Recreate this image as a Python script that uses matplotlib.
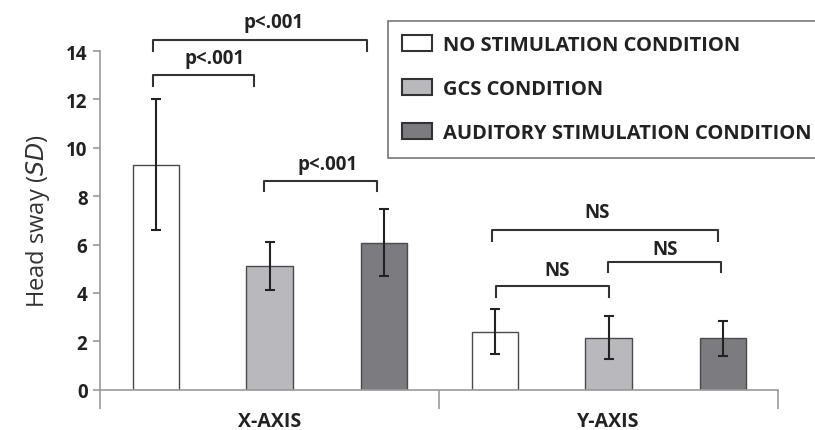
import matplotlib
matplotlib.use("Agg")
import matplotlib.pyplot as plt
from matplotlib.patches import Patch

plt.rcParams['font.family'] = ['Open Sans', 'DejaVu Sans']

# data
groups = ["X-AXIS", "Y-AXIS"]
conditions = ["NO STIMULATION CONDITION", "GCS CONDITION", "AUDITORY STIMULATION CONDITION"]
means = {
    "NO STIMULATION CONDITION": [9.3, 2.4],
    "GCS CONDITION": [5.12, 2.15],
    "AUDITORY STIMULATION CONDITION": [6.08, 2.12],
}
errs = {
    "NO STIMULATION CONDITION": [2.7, 0.92],
    "GCS CONDITION": [1.0, 0.9],
    "AUDITORY STIMULATION CONDITION": [1.4, 0.72],
}
# brackets: (x left, x right, bar height, drop, label x, label y, label)
brackets = [
    (-0.345, -0.046, 13.02, 0.45, -0.161, 13.72, "p<.001"),
    (-0.345, 0.288, 14.46, 0.45, 0.013, 15.2, "p<.001"),
    (-0.016, 0.318, 8.64, 0.42, 0.170, 9.33, "p<.001"),
    (0.655, 1.324, 6.61, 0.45, 0.965, 7.33, "NS"),
    (0.998, 1.333, 5.29, 0.44, 1.167, 5.81, "NS"),
    (0.669, 1.002, 4.27, 0.45, 0.847, 4.96, "NS"),
]

colours = ["#ffffff", "#b9b9bd", "#7b7b80"]
offsets = [-0.336, 0.0, 0.337]
width = 0.136
grey = "#9a9a9a"
txt = "#222222"

fig = plt.figure(figsize=(8.15, 4.31), dpi=100)
ax = fig.add_axes([100 / 815, 1 - 390.7 / 431, 678 / 815, 338.7 / 431])

for i, c in enumerate(conditions):
    xs = [g + offsets[i] for g in range(len(groups))]
    ax.bar(xs, means[c], width, color=colours[i], edgecolor="#4a4a4a", linewidth=1.0, zorder=2)
    ax.errorbar(xs, means[c], yerr=errs[c], fmt="none", ecolor="#222222",
                elinewidth=1.5, capsize=3.5, capthick=1.5, zorder=3)

for x1, x2, y, d, lx, ly, lab in brackets:
    ax.plot([x1, x1, x2, x2], [y - d, y, y, y - d], color="#333333", lw=1.5,
            clip_on=False, zorder=4)
    ax.text(lx, ly, lab, ha="center", va="center", fontsize=13.5,
            fontweight="bold", color=txt)

ax.set_xlim(-0.5, 1.5)
ax.set_ylim(0, 14)
ax.set_yticks(range(0, 15, 2))
ax.set_xticks([-0.5, 0.5, 1.5])
ax.set_xticklabels([])
ax.tick_params(axis="x", length=14, color=grey, width=1.2)
ax.tick_params(axis="y", length=5, color=grey, width=1.2, labelsize=13.5, labelcolor=txt, pad=4)
for lab in ax.get_yticklabels():
    lab.set_fontweight("bold")
for i, g in enumerate(groups):
    ax.text(i, -0.093, g, transform=ax.get_xaxis_transform(), ha="center", va="center",
            fontsize=14, fontweight="bold", color=txt)

for s in ["top", "right"]:
    ax.spines[s].set_visible(False)
for s in ["left", "bottom"]:
    ax.spines[s].set_color(grey)
    ax.spines[s].set_linewidth(1.2)

ax.set_ylabel("Head sway ($\\it{SD}$)", fontsize=17, color="#333333", labelpad=10)

handles = [Patch(facecolor=colours[i], edgecolor="#333333", linewidth=1.5) for i in range(3)]
leg = fig.legend(handles, conditions, loc="upper left", bbox_to_anchor=(388 / 815, 1 - 22 / 431),
                 frameon=True, fancybox=False, edgecolor="#555555", fontsize=14.5,
                 handlelength=1.5, handleheight=0.85, handletextpad=0.55, labelspacing=1.2,
                 borderpad=0.7, borderaxespad=0)
leg.get_frame().set_linewidth(1.2)
for t in leg.get_texts():
    t.set_fontweight("bold")
    t.set_color(txt)

fig.savefig("out.png", dpi=100)
